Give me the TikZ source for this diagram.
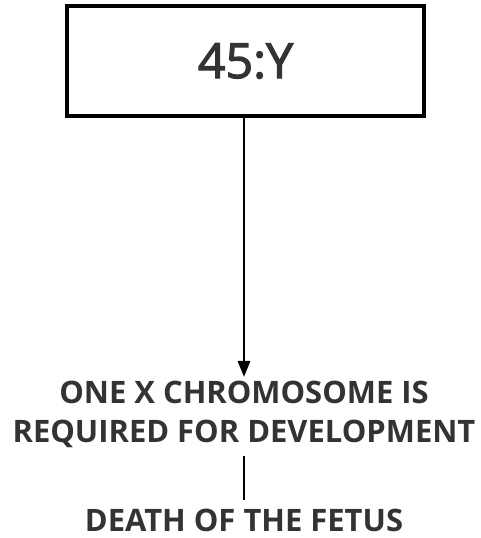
\documentclass[tikz,border=0pt]{standalone}
\usepackage{fontspec}
\setmainfont{Open Sans}
\newfontfamily\boxfont[FakeBold=2.5]{Open Sans}
\usetikzlibrary{arrows.meta}
\definecolor{txtgray}{HTML}{333333}
\begin{document}
\begin{tikzpicture}
    \useasboundingbox (0,0) rectangle (9.62,-10.76);
    \node[draw=black,line width=1.8pt,minimum width=7.14cm,minimum height=2.2cm,
          font=\boxfont\fontsize{27.5}{33}\selectfont,text=txtgray] (karyo) at (4.91,-1.22) {45:Y};
    \node[align=center,inner sep=2pt,font=\fontsize{17.6}{22.2}\selectfont\bfseries,
          text=txtgray] (need) at (4.88,-8.28) {ONE X CHROMOSOME IS\\REQUIRED FOR DEVELOPMENT};
    \node[inner sep=2pt,font=\fontsize{17.6}{22.2}\selectfont\bfseries,
          text=txtgray] (death) at (4.88,-10.4) {DEATH OF THE FETUS};
    \draw[-{Triangle[length=9pt,width=7pt]},line width=1.2pt]
                             (karyo.south -| need.north) to (need.north);
    \draw[line width=1.2pt]  ([yshift=-0.1cm]need.south) to ([yshift=0.1cm]death.north);
\end{tikzpicture}
\end{document}
